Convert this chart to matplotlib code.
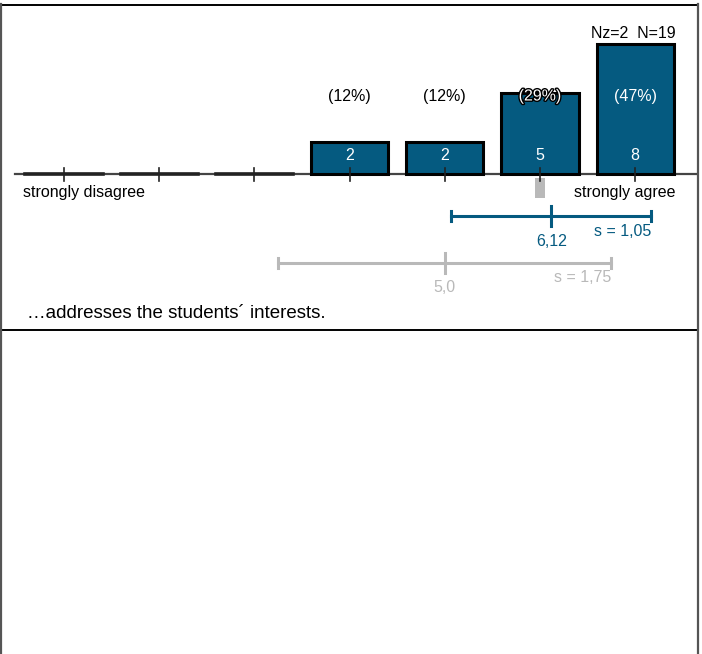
import matplotlib
matplotlib.use("Agg")
import matplotlib.pyplot as plt
import matplotlib.patheffects as pe
from matplotlib.lines import Line2D

plt.rcParams['font.family'] = ['Liberation Sans', 'DejaVu Sans']

# ---- data ----
categories = [1, 2, 3, 4, 5, 6, 7]
counts = [0, 0, 0, 2, 2, 5, 8]
percent_labels = ["", "", "", "(12%)", "(12%)", "(29%)", "(47%)"]
left_label = "strongly disagree"
right_label = "strongly agree"
n_info = "Nz=2  N=19"
mean_this = 6.12
sd_this = 1.05
mean_this_label = "6,12"
sd_this_label = "s = 1,05"
mean_ref = 5.0
sd_ref = 1.75
mean_ref_label = "5,0"
sd_ref_label = "s = 1,75"
median_value = 6
question = "\u2026addresses the students\u00b4 interests."

BLUE = "#055a80"
GREY = "#b9b9b9"

W, H = 702, 654
fig = plt.figure(figsize=(W / 100, H / 100), dpi=100)
ax = fig.add_axes([0, 0, 1, 1])
ax.set_axis_off()

px_per_cat = 95.2
px_per_count = 16.25
x0 = 1 - 64 / px_per_cat
ax.set_xlim(x0, x0 + W / px_per_cat)
base_px = 174
ax.set_ylim(-(H - base_px) / px_per_count, base_px / px_per_count)

def ypx(p):
    # convert pixels-from-top to data y
    return (base_px - p) / px_per_count

FS = 11.5
bw = 0.81
# baseline
ax.plot([x0 + 15 / px_per_cat, x0 + 697 / px_per_cat], [0, 0], color="#444444", lw=1.6, zorder=2)
for c, n, pl in zip(categories, counts, percent_labels):
    if n > 0:
        ax.bar(c, n, width=bw, color=BLUE, edgecolor="black", linewidth=2.2, zorder=3)
        ax.text(c, ypx(156), str(n), ha="center", va="center", color="white", fontsize=FS, zorder=5)
    else:
        ax.plot([c - bw / 2, c + bw / 2], [0, 0], color="#222222", lw=2.6, zorder=3)
    # tick
    ax.plot([c, c], [ypx(168), ypx(181)], color="#222222", lw=1.2, zorder=4)
    if pl:
        top_px = base_px - n * px_per_count
        if top_px > 110:
            ax.text(c, ypx(96), pl, ha="center", va="center", color="black", fontsize=FS, zorder=5)
        elif top_px > 86:
            ax.text(c, ypx(96), pl, ha="center", va="center", color="white", fontsize=FS, zorder=5,
                    path_effects=[pe.withStroke(linewidth=2, foreground="black")])
        else:
            ax.text(c, ypx(96), pl, ha="center", va="center", color="white", fontsize=FS, zorder=5)

ax.text(categories[-1] + bw / 2 + 0.02, ypx(33), n_info, ha="right", va="center", fontsize=FS, color="black")

# median marker
ax.bar(median_value, ypx(178) - ypx(198), bottom=ypx(198), width=10 / px_per_cat, color=GREY, zorder=2)

# labels on scale
ax.text(categories[0] - bw / 2 - 2 / px_per_cat, ypx(192), left_label, ha="left", va="center", fontsize=FS)
ax.text(categories[-1] + bw / 2 + 0.02, ypx(192), right_label, ha="right", va="center", fontsize=FS)

# error bars
def errbar(m, s, yp, color, mlab, slab, mlab_dy, slab_dy):
    y = ypx(yp)
    ax.plot([m - s, m + s], [y, y], color=color, lw=2.2, zorder=3)
    cap = 6 / px_per_count
    for xx in (m - s, m + s):
        ax.plot([xx, xx], [y - cap * 0.9, y + cap * 0.9], color=color, lw=2.2, zorder=3)
    ax.plot([m, m], [y - cap * 1.6, y + cap * 1.6], color=color, lw=2.2, zorder=3)
    ax.text(m, ypx(yp + mlab_dy), mlab, ha="center", va="center", color=color, fontsize=FS)
    ax.text(m + s, ypx(yp + slab_dy), slab, ha="right", va="center", color=color, fontsize=FS)

errbar(mean_this, sd_this, 216, BLUE, mean_this_label, sd_this_label, 25, 15)
errbar(mean_ref, sd_ref, 263, GREY, mean_ref_label, sd_ref_label, 24, 14)

ax.text(x0 + 27 / px_per_cat, ypx(314), question, ha="left", va="center", fontsize=13.5)

# frame lines in figure pixel coordinates
def fline(xs, ys, color, lw):
    fig.add_artist(Line2D([x / W for x in xs], [1 - y / H for y in ys], color=color, lw=lw,
                          transform=fig.transFigure))

fline([0, 698], [4.5, 4.5], "black", 1.4)
fline([0, 698], [330.5, 330.5], "black", 1.4)
fline([1, 1], [4, 654], "#555555", 1.6)
fline([697.5, 697.5], [4, 654], "#555555", 1.6)

fig.savefig("out.png", dpi=100)
